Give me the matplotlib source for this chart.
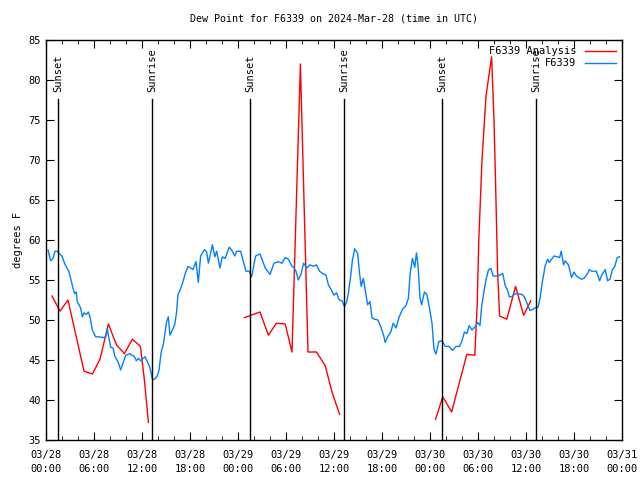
import numpy as np
import datetime as dt
from matplotlib import pyplot as plt
import matplotlib.dates as mdates

start = dt.datetime(2024, 3, 28, 0, 0)

# F6339 observations (hours after start, deg F)
obs_h = [0.25, 0.58, 0.88, 1.13, 1.4, 2.04, 2.33, 2.88, 3.08, 3.38, 3.58, 3.79, 3.9,
         4.13, 4.33, 4.54, 4.75, 5.04, 5.29, 5.5, 5.79, 6.2, 6.6, 7.25, 7.46, 7.67, 7.8,
         8.08, 8.38, 8.63, 9.0, 9.33, 9.63, 9.96, 10.25, 10.5, 10.7, 11.0, 11.3, 11.54,
         11.83, 12.13, 12.38, 12.67, 13.0, 13.3, 13.58, 13.9, 14.13, 14.4, 14.67, 14.8,
         15.08, 15.29, 15.5, 15.8, 16.08, 16.3, 16.5, 16.83, 17.13, 17.46, 17.75, 18.08,
         18.38, 18.75, 19.04, 19.33, 19.8, 20.08, 20.3, 20.8, 21.1, 21.33, 21.75, 22.04,
         22.38, 22.9, 23.2, 23.6, 23.83, 24.33, 24.67, 25.0, 25.4, 25.7, 26.2, 26.75,
         27.4, 28.0, 28.5, 29.04, 29.5, 29.9, 30.3, 30.7, 31.0, 31.25, 31.54, 31.9, 32.2,
         32.6, 33.0, 33.4, 33.8, 34.2, 34.6, 35.0, 35.3, 35.7, 36.0, 36.3, 36.67, 37.0,
         37.3, 37.6, 37.8, 38.1, 38.3, 38.6, 38.96, 39.17, 39.4, 39.67, 39.9, 40.2, 40.5,
         40.75, 41.04, 41.5, 41.9, 42.2, 42.4, 42.7, 43.1, 43.4, 43.75, 44.15, 44.6, 45.0,
         45.3, 45.5, 45.8, 46.1, 46.3, 46.5, 46.75, 46.96, 47.3, 47.6, 47.9, 48.25, 48.5,
         48.75, 49.1, 49.5, 49.9, 50.4, 50.8, 51.25, 51.7, 52.0, 52.3, 52.6, 52.9, 53.25,
         53.67, 53.96, 54.25, 54.46, 54.75, 55.0, 55.3, 55.6, 55.9, 56.5, 57.1, 57.4, 57.7,
         57.9, 58.2, 58.5, 58.9, 59.5, 59.8, 60.2, 60.5, 60.8, 61.3, 61.5, 61.75, 62.0,
         62.4, 62.7, 62.9, 63.2, 63.5, 63.9, 64.2, 64.4, 64.7, 64.9, 65.3, 65.6, 65.7,
         66.0, 66.3, 66.6, 66.96, 67.25, 67.7, 67.9, 68.2, 68.8, 69.2, 69.5, 69.9, 70.2,
         70.5, 70.8, 71.1, 71.4, 71.7]
obs_v = [58.75, 57.4, 57.7, 58.6, 58.6, 57.9, 57.05, 56.0, 55.2, 53.96, 53.3, 53.5, 52.3,
         51.9, 51.5, 50.4, 50.9, 50.7, 51.0, 50.4, 48.75, 47.9, 47.9, 47.8, 47.9, 48.96, 48.1,
         46.6, 46.5, 45.4, 44.8, 43.75, 44.6, 45.6, 45.7, 45.8, 45.6, 45.5, 44.9, 45.2,
         44.9, 45.2, 45.4, 44.8, 44.0, 42.6, 42.6, 43.0, 43.75, 46.0, 47.0, 47.9,
         49.8, 50.4, 48.1, 48.75, 49.4, 50.8, 53.2, 53.9, 54.8, 56.0, 56.7, 56.5,
         56.3, 57.3, 54.7, 58.0, 58.8, 58.5, 57.1, 59.4, 57.9, 58.6, 56.5, 57.9,
         57.7, 59.1, 58.75, 58.0, 58.6, 58.6, 57.3, 56.1, 56.1, 55.4, 58.0, 58.25,
         56.5, 55.7, 57.1, 57.3, 57.1, 57.8, 57.6, 56.8, 56.5, 56.1, 55.0, 55.8, 57.1,
         56.5, 56.9, 56.7, 56.9, 56.1, 55.8, 55.6, 54.4, 53.7, 53.1, 53.4, 52.5, 52.4,
         51.7, 52.3, 53.4, 55.6, 57.5, 58.9, 58.3, 56.05, 54.2, 55.2, 53.75, 51.9, 52.3,
         50.3, 50.1, 50.0, 49.0, 48.1, 47.2, 47.9, 48.5, 49.6, 49.0, 50.4, 51.4, 51.8,
         52.7, 55.6, 57.7, 56.6, 58.4, 56.9, 52.7, 51.9, 53.5, 53.2, 51.7, 49.6, 46.3,
         45.75, 47.3, 47.4, 46.7, 46.7, 46.2, 46.7, 46.7, 47.4, 48.5, 48.3, 49.3, 48.75,
         49.2, 49.7, 49.3, 51.75, 53.6, 55.0, 56.25, 56.45, 55.5, 55.5, 55.8, 54.3, 53.7,
         52.9, 52.9, 53.2, 53.3, 53.2, 52.9, 51.9, 51.2, 51.3, 51.6, 51.6, 52.7, 54.5,
         56.8, 57.6, 57.2, 57.6, 58.0, 57.9, 57.8, 58.6, 56.9, 57.4, 56.9, 55.7, 55.3,
         56.0, 55.5, 55.3, 55.1, 55.2, 55.8, 56.3, 56.1, 56.1, 54.9, 55.7, 56.3, 54.9,
         55.1, 56.3, 56.7, 57.8, 57.9]

# F6339 analysis (nan = gap)
ana_h = [0.75, 1.75, 2.75, 4.75, 5.8, 6.75, 7.8, 8.8, 9.8, 10.8, 11.8, 12.3, 12.8, np.nan,
         24.8, 26.75, 27.8, 28.8, 29.9, 30.75, 31.8, 32.75, 33.8, 34.9, 35.75, 36.7, np.nan,
         48.7, 49.6, 50.7, 52.6, 53.6, 53.9, 54.1, 54.5, 55.0, 55.5, 55.7, 56.0, 56.2, 56.45,
         56.7, 57.6, 58.7, 59.7, 60.6]
ana_v = [53.0, 51.1, 52.5, 43.6, 43.25, 45.1, 49.5, 46.9, 45.8, 47.6, 46.7, 42.5, 37.2, np.nan,
         50.3, 51.0, 48.1, 49.6, 49.5, 46.0, 82.0, 46.0, 46.0, 44.3, 41.0, 38.2, np.nan,
         37.6, 40.4, 38.5, 45.7, 45.6, 52.0, 60.0, 70.0, 78.0, 81.5, 82.9, 75.0, 67.0, 56.0,
         50.5, 50.1, 54.2, 50.6, 52.4]

sun_h = [1.54, 13.3, 25.5, 37.3, 49.5, 61.3]
sun_lbl = ['Sunset', 'Sunrise', 'Sunset', 'Sunrise', 'Sunset', 'Sunrise']


def to_num(hours):
    return [mdates.date2num(start + dt.timedelta(hours=h)) if not np.isnan(h) else np.nan
            for h in hours]


plt.rcParams['font.family'] = 'DejaVu Sans Mono'
plt.rcParams['font.size'] = 7.5

fig = plt.figure(figsize=(6.4, 4.8), dpi=100)
ax = fig.add_axes([46/640, 40/480, 576/640, 400/480])

ax.plot(to_num(ana_h), ana_v, color='#ff0000', lw=1, label='F6339 Analysis')
ax.plot(to_num(obs_h), obs_v, color='#0080ff', lw=1, label='F6339')

for h, lbl in zip(sun_h, sun_lbl):
    d = mdates.date2num(start + dt.timedelta(hours=h))
    ax.plot([d, d], [35, 77.6], color='black', lw=1)
    ax.text(d, 78.5, lbl, rotation=90, ha='center', va='bottom')

ax.set_xlim(mdates.date2num(start), mdates.date2num(start + dt.timedelta(hours=72)))
ax.set_ylim(35, 85)
ax.set_yticks(np.arange(35, 86, 5))
ax.xaxis.set_major_locator(mdates.HourLocator(byhour=[0, 6, 12, 18]))
ax.xaxis.set_minor_locator(mdates.HourLocator(byhour=range(0, 24, 2)))
ax.xaxis.set_major_formatter(mdates.DateFormatter('%m/%d\n%H:%M'))
ax.tick_params(which='both', direction='in', top=True, right=True, color='black')
ax.tick_params(which='major', length=6)
ax.tick_params(which='minor', length=3)
ax.tick_params(axis='x', pad=7)
for s in ax.spines.values():
    s.set_linewidth(1)

ax.set_title('Dew Point for F6339 on 2024-Mar-28 (time in UTC)', fontsize=7.2, pad=13)
ax.set_ylabel('degrees F')
ax.legend(loc='upper right', frameon=False, markerfirst=False, handlelength=3,
          borderaxespad=0.2, labelspacing=0.2, handletextpad=0.8)

fig.canvas.draw()
for t in ax.get_xticklabels():
    t.set_linespacing(1.5)

plt.savefig('out.png', dpi=100)
